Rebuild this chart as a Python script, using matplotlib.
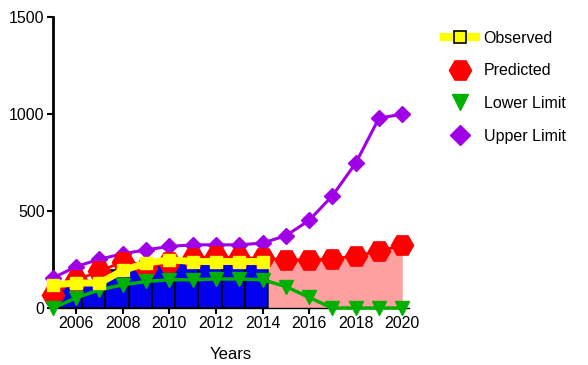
import numpy as np
import matplotlib.pyplot as plt
from matplotlib.lines import Line2D

plt.rcParams['font.family'] = ['Liberation Sans', 'DejaVu Sans']

years = np.arange(2005, 2021)
obs_years = np.arange(2005, 2015)
observed = [120, 129, 129, 194, 232, 249, 240, 240, 240, 240]
predicted = [69, 146, 189, 240, 206, 240, 258, 266, 258, 258,
             249, 249, 254, 270, 292, 326]
lower = [0, 53, 94, 120, 137, 146, 146, 150, 150, 146,
         111, 55, 0, 0, 0, 0]
upper = [155, 214, 252, 280, 300, 318, 326, 326, 326, 335,
         373, 452, 579, 747, 979, 1000]

fig = plt.figure(figsize=(5.88, 3.65), dpi=100)
ax = fig.add_axes([0.090, 0.156, 0.606, 0.797])

# observed counts as bars, forecast period as a shaded band
ax.bar(obs_years + 0.25, observed, width=-1.0, align='edge',
       color='#0000ee', edgecolor='black', linewidth=1.2, zorder=1)
xf = np.concatenate([[2014.25], years[years > 2014]])
yf = np.interp(xf, years, predicted)
ax.fill_between(xf, 0, yf, color='#ffa0a0', linewidth=0, zorder=1)

ax.plot(years, upper, color='#a000e6', lw=2.2, marker='D', ms=8,
        zorder=3, clip_on=False)
ax.plot(years, predicted, color='#ff0000', lw=2, marker='H', ms=16,
        zorder=4, clip_on=False)
ax.plot(years, lower, color='#00b000', lw=2.5, marker='v', ms=10,
        zorder=5, clip_on=False)
ax.plot(obs_years, observed, color='#ffff00', lw=5, marker='s', ms=9,
        mec='#ffff00', zorder=6, clip_on=False)

ax.set_xlim(2005, 2020.3)
ax.set_ylim(0, 1500)
ax.set_xticks(np.arange(2006, 2021, 2))
ax.set_yticks([0, 500, 1000, 1500])
ax.tick_params(labelsize=11.5, length=4, width=1.5, pad=2)
ax.spines['top'].set_visible(False)
ax.spines['right'].set_visible(False)
ax.spines['left'].set_linewidth(2)
ax.spines['bottom'].set_linewidth(1)
ax.set_xlabel('Years', fontsize=12, labelpad=11)

handles = [
    Line2D([], [], color='#ffff00', lw=6, marker='s', ms=9,
           mfc='#ffff00', mec='black', mew=1.2),
    Line2D([], [], ls='none', marker='H', ms=16, color='#ff0000'),
    Line2D([], [], ls='none', marker='v', ms=12, color='#00b000'),
    Line2D([], [], ls='none', marker='D', ms=10, color='#a000e6'),
]
labels = ['Observed', 'Predicted', 'Lower Limit', 'Upper Limit']
fig.legend(handles, labels, loc='upper left', bbox_to_anchor=(0.73, 0.955),
           frameon=False, fontsize=11.5, handlelength=2.0,
           labelspacing=1.1, handletextpad=0.5)

fig.savefig('out.png', dpi=100)
